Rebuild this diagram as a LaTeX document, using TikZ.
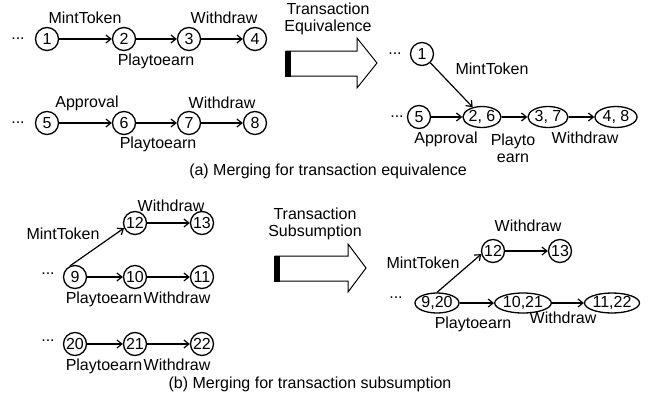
\documentclass[tikz,border=0pt]{standalone}
\usepackage{fontspec}
\setmainfont{Liberation Sans}
\usetikzlibrary{arrows.meta,shapes.geometric}
\begin{document}
\begin{tikzpicture}[x=1pt,y=-1pt,
  every node/.style={font=\fontsize{16}{18}\selectfont},
  cnode/.style={circle,draw,line width=1.3pt,minimum size=23pt,inner sep=0pt},
  enode/.style={ellipse,draw,line width=1.3pt,minimum height=21pt,inner sep=0pt},
  lbl/.style={inner sep=0pt,align=center},
  edge/.style={line width=1.2pt,-{Straight Barb[length=5pt,width=8pt,line width=1.2pt]}},
  bigarrow/.style={draw,line width=1pt,fill=white,line join=miter}]
\useasboundingbox (0,0) rectangle (659,407);

% ---------- (a) left ----------
\node[lbl] (dA1) at (18,39) {...};
\node[cnode] (a1) at (47,39) {1};
\node[cnode] (a2) at (124,39) {2};
\node[cnode] (a3) at (189,39) {3};
\node[cnode] (a4) at (255,39) {4};
\node[lbl] (lA1) at (85,18) {MintToken};
\node[lbl] (lA2) at (156,61) {Playtoearn};
\node[lbl] (lA3) at (224,18) {Withdraw};
\draw[edge] (a1) -- (a2);
\draw[edge] (a2) -- (a3);
\draw[edge] (a3) -- (a4);

\node[lbl] (dA2) at (18,123) {...};
\node[cnode] (a5) at (47,123) {5};
\node[cnode] (a6) at (124,123) {6};
\node[cnode] (a7) at (189,123) {7};
\node[cnode] (a8) at (255,123) {8};
\node[lbl] (lA4) at (87,103) {Approval};
\node[lbl] (lA5) at (158,144) {Playtoearn};
\node[lbl] (lA6) at (222,103) {Withdraw};
\draw[edge] (a5) -- (a6);
\draw[edge] (a6) -- (a7);
\draw[edge] (a7) -- (a8);

% ---------- (a) big arrow ----------
\node[lbl] (tA) at (328,19) {Transaction\\[-1pt]Equivalence};
\draw[bigarrow] (286,51) -- (357,51) -- (357,38) -- (377,63) -- (357,88) -- (357,76) -- (286,76) -- cycle;
\fill (285,50.5) rectangle (291,76.5);

% ---------- (a) right ----------
\node[lbl] (dA3) at (395,54) {...};
\node[cnode] (b1) at (422,54) {1};
\node[lbl] (dA4) at (397,117) {...};
\node[cnode] (b5) at (419,117) {5};
\node[enode,minimum width=38pt] (b26) at (482,117) {2, 6};
\node[enode,minimum width=40pt] (b37) at (548,117) {3, 7};
\node[enode,minimum width=42pt] (b48) at (616,117) {4, 8};
\node[lbl] (lB1) at (492,69) {MintToken};
\node[lbl] (lB2) at (446,139) {Approval};
\node[lbl] (lB3) at (513,148) {Playto\\[-1pt]earn};
\node[lbl] (lB4) at (585,138) {Withdraw};
\draw[edge] (b1) -- (b26);
\draw[edge] (b5) -- (b26);
\draw[edge] (b26) -- (b37);
\draw[edge] (b37) -- (b48);

\node[lbl] (capA) at (328,171) {(a) Merging for transaction equivalence};

% ---------- (b) left ----------
\node[cnode] (c12) at (135,223) {12};
\node[cnode] (c13) at (202,223) {13};
\node[lbl] (dB1) at (48,274) {...};
\node[cnode] (c9) at (75,277) {9};
\node[cnode] (c10) at (135,277) {10};
\node[cnode] (c11) at (202,277) {11};
\node[lbl] (lC1) at (171,206) {Withdraw};
\node[lbl] (lC2) at (63,234) {MintToken};
\node[lbl] (lC3) at (104,299) {Playtoearn};
\node[lbl] (lC4) at (177,298) {Withdraw};
\draw[edge] (c9.115) -- (c12.205);
\draw[edge] (c12) -- (c13);
\draw[edge] (c9) -- (c10);
\draw[edge] (c10) -- (c11);

\node[lbl] (dB2) at (48,341) {...};
\node[cnode] (c20) at (75,344) {20};
\node[cnode] (c21) at (135,344) {21};
\node[cnode] (c22) at (202,344) {22};
\node[lbl] (lC5) at (104,366) {Playtoearn};
\node[lbl] (lC6) at (177,365) {Withdraw};
\draw[edge] (c20) -- (c21);
\draw[edge] (c21) -- (c22);

% ---------- (b) big arrow ----------
\node[lbl] (tB) at (315,224) {Transaction\\[-1pt]Subsumption};
\draw[bigarrow] (275,256) -- (348,256) -- (348,244) -- (366,268) -- (348,292) -- (348,281) -- (275,281) -- cycle;
\fill (274,255.5) rectangle (280,281.5);

% ---------- (b) right ----------
\node[cnode] (d12) at (493,251) {12};
\node[cnode] (d13) at (560,251) {13};
\node[lbl] (dB3) at (396,298) {...};
\node[enode,minimum width=40pt,minimum height=20pt] (d920) at (437,303) {9,20};
\node[enode,minimum width=50pt,minimum height=20pt] (d1021) at (523,303) {10,21};
\node[enode,minimum width=47pt,minimum height=20pt] (d1122) at (612,303) {11,22};
\node[lbl] (lD1) at (528,226) {Withdraw};
\node[lbl] (lD2) at (423,263) {MintToken};
\node[lbl] (lD3) at (473,324) {Playtoearn};
\node[lbl] (lD4) at (563,318) {Withdraw};
\draw[edge] (d920.north) -- (d12.195);
\draw[edge] (d12) -- (d13);
\draw[edge] (d920) -- (d1021);
\draw[edge] (d1021) -- (d1122);

\node[lbl] (capB) at (310,384) {(b) Merging for transaction subsumption};
\end{tikzpicture}
\end{document}
